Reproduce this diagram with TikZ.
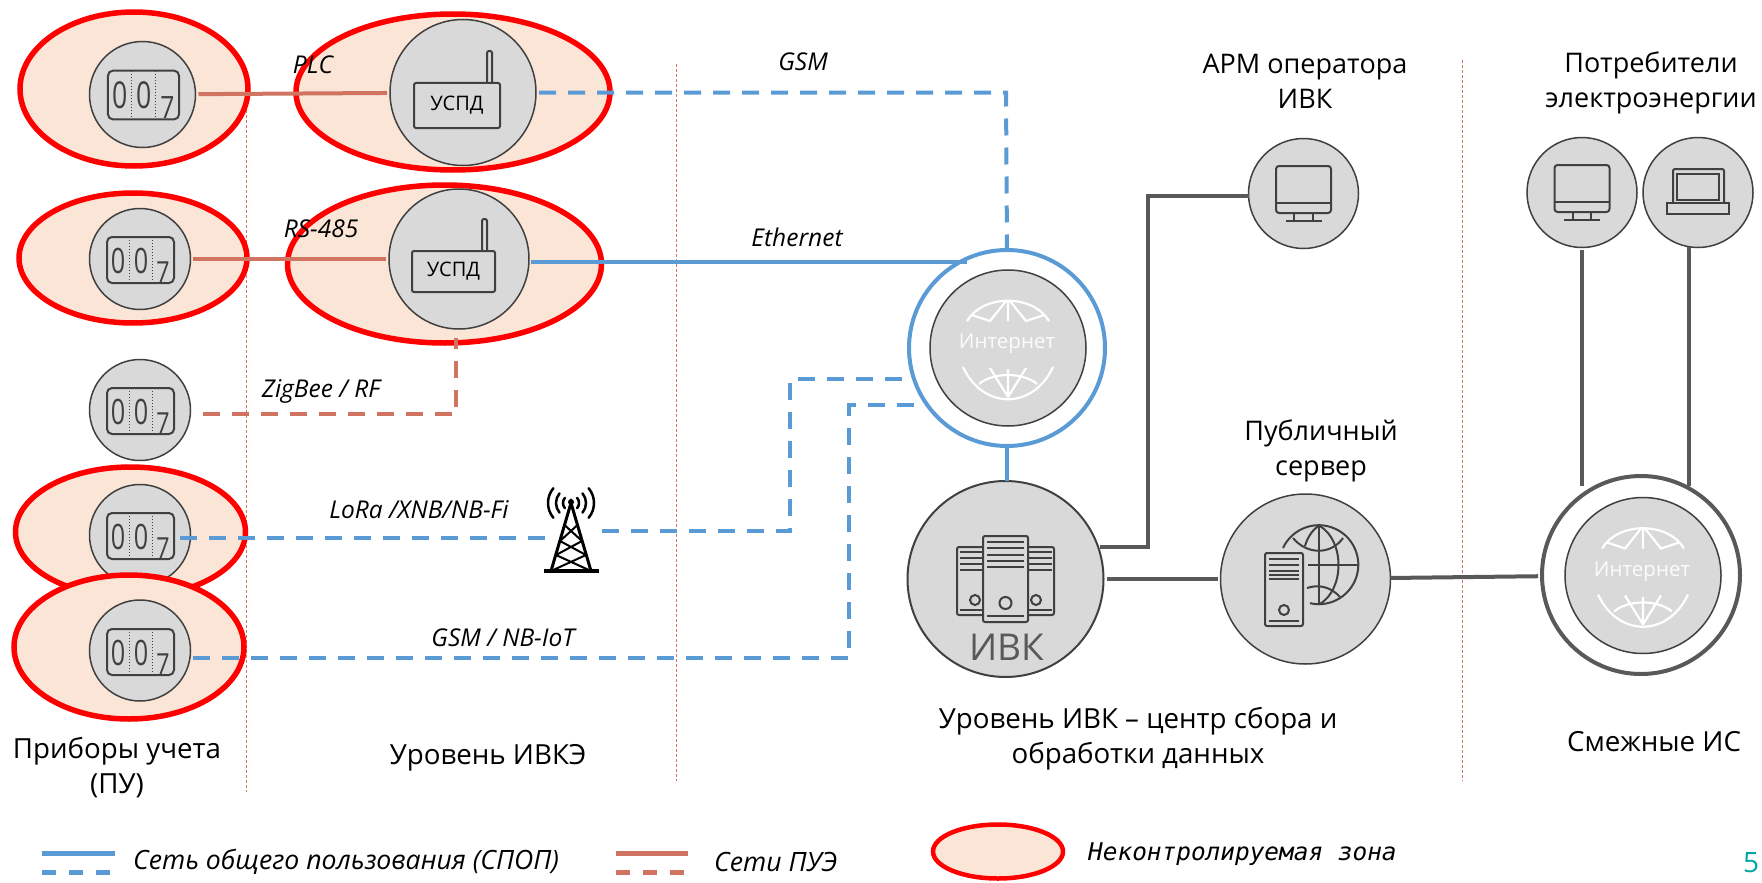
\documentclass[tikz,border=0pt]{standalone}
\usepackage{fontspec}
\setmainfont{Open Sans}
\newfontfamily\zonefont{DejaVu Sans Mono}
\usetikzlibrary{shapes.geometric, positioning}
\definecolor{zonefill}{HTML}{FBE5D6}
\definecolor{unitfill}{HTML}{D9D9D9}
\definecolor{unitline}{HTML}{404040}
\definecolor{netblue}{HTML}{5B9BD5}
\definecolor{puered}{HTML}{D07360}
\definecolor{busgray}{HTML}{595959}
\definecolor{pageteal}{HTML}{00A5A5}
\tikzstyle{zone} = [ellipse, draw=red, line width=5.5pt, fill=zonefill, inner sep=0pt, outer sep=0pt]
\tikzstyle{unit} = [circle, draw=unitline, fill=unitfill, line width=1.5pt, inner sep=0pt, outer sep=0pt]
\tikzstyle{ring} = [circle, fill=white, line width=4pt, inner sep=0pt, outer sep=0pt, minimum size=196pt]
\tikzstyle{router} = [rectangle, draw=unitline, line width=2pt, rounded corners=2pt, fill=unitfill, font=\fontsize{20}{24}\selectfont]
\tikzstyle{title} = [align=center, font=\fontsize{27.7}{35}\selectfont]
\tikzstyle{toptitle} = [align=center, font=\fontsize{27}{35}\selectfont]
\tikzstyle{netlabel} = [font=\fontsize{24.5}{28}\selectfont\itshape]
\tikzstyle{legendlabel} = [anchor=west, inner sep=0pt, font=\fontsize{26.6}{30}\selectfont\itshape]
\tikzstyle{netline} = [draw=netblue, line width=4pt]
\tikzstyle{netdash} = [netline, dash pattern=on 17pt off 12pt]
\tikzstyle{pueline} = [draw=puered, line width=4pt]
\tikzstyle{puedash} = [pueline, dash pattern=on 17pt off 12pt]
\tikzstyle{busline} = [draw=busgray, line width=4pt]
\tikzstyle{divider} = [draw=puered, line width=1pt, dash pattern=on 3pt off 2pt]
\tikzset{
  icon/.style={draw=unitline, line width=2pt},
  pics/metericon/.style={code={
    \draw [icon, rounded corners=5pt] (-33.5,-23) rectangle (33.5,23);
    \draw [unitline, line width=1pt, dotted] (-11,-23) -- (-11,23) (11.5,-23) -- (11.5,23);
    \node [text=unitline, xscale=.72, font=\fontsize{35}{35}\selectfont] (d1) at (-22.5,.5) {0};
    \node [text=unitline, xscale=.72, font=\fontsize{35}{35}\selectfont] (d2) at (.5,.5) {0};
    \node [text=unitline, xscale=.8, font=\fontsize{29}{29}\selectfont] (d3) at (22.5,12) {7};
  }},
  pics/monitoricon/.style={code={
    \draw [icon, rounded corners=3pt] (-27.5,-27.5) rectangle (27.5,19.5);
    \draw [icon] (-27.5,9.5) -- (27.5,9.5);
    \draw [icon] (-9.5,19.5) -- (-9.5,27.5) (9,19.5) -- (9,27.5) (-18,27.5) -- (18,27.5);
  }},
  pics/laptopicon/.style={code={
    \draw [icon, rounded corners=2pt] (-25,10.5) -- (-25,-23.5) -- (26,-23.5) -- (26,10.5);
    \draw [icon] (-21,-18.5) rectangle (21,7.5);
    \draw [icon] (-31,10.5) rectangle (31,21.5);
  }},
  pics/webicon/.style={code={
    \draw [white, line width=2.2pt] (-41,-27) .. controls (-25,-54) and (25,-54) .. (41,-27);
    \draw [white, line width=2.2pt] (0,-47) -- (0,-27) (-2,-47) -- (-18,-27) -- (-36,-33) (2,-47) -- (18,-27) -- (36,-33);
    \draw [white, line width=2.2pt] (-45,19) .. controls (-25,62) and (25,62) .. (45,19);
    \draw [white, line width=2.2pt] (-29,36) .. controls (-15,24) and (15,24) .. (29,36);
    \draw [white, line width=2.2pt] (0,21) -- (0,49) (0,49) -- (-18,20) (0,49) -- (18,20);
    \node [text=white!90!unitfill, font=\fontsize{20.5}{24}\selectfont] (webtext) at (-1,-4) {Интернет};
  }},
  pics/clustericon/.style={code={
    \draw [icon, rounded corners=2pt] (-22.5,-32) -- (-48.5,-32) -- (-48.5,36) -- (-22.5,36);
    \draw [icon, rounded corners=2pt] (22.5,-32) -- (48.5,-32) -- (48.5,36) -- (22.5,36);
    \draw [icon, rounded corners=2pt] (-22.5,-43) rectangle (22.5,43);
    \draw [icon] (-18.5,-37) -- (18.5,-37) (-18.5,-31) -- (18.5,-31) (-18.5,-24) -- (18.5,-24) (-18.5,-18) -- (18.5,-18) (-18.5,-12) -- (18.5,-12) (-18.5,37) -- (18.5,37);
    \draw [icon] (-46,-27) -- (-22.5,-27) (-46,-21) -- (-22.5,-21) (-46,-15) -- (-22.5,-15) (-46,-9) -- (-22.5,-9) (-46,31) -- (-22.5,31);
    \draw [icon] (46,-27) -- (22.5,-27) (46,-21) -- (22.5,-21) (46,-15) -- (22.5,-15) (46,-9) -- (22.5,-9) (46,31) -- (22.5,31);
    \draw [icon] (0,24) circle (6) (-30.5,21) circle (5) (30.5,21) circle (5);
  }},
  pics/servericon/.style={code={
    % globe behind the tower
    \draw [icon] (-36,-17) arc[start angle=-155, end angle=103, radius=39.5];
    \draw [icon] (0,-39.5) -- (0,39.5) (-11,0) -- (39.5,0);
    \draw [icon] (0,-39.5) .. controls (26,-25) and (26,25) .. (0,39.5);
    \draw [icon] (0,-39.5) .. controls (-8,-34) and (-12,-26) .. (-14,-19);
    \draw [icon] (-26,-27) .. controls (-12,-10) and (12,-10) .. (24,-27);
    \draw [icon] (-12,23) .. controls (0,19) and (12,22) .. (21,32);
    % tower
    \draw [icon, fill=unitfill, rounded corners=2pt] (-54,-12) rectangle (-16,61);
    \draw [icon] (-50,-6) -- (-20,-6) (-50,0) -- (-20,0) (-50,6) -- (-20,6) (-50,10) -- (-20,10) (-50,14) -- (-20,14) (-50,56) -- (-20,56);
    \draw [icon] (-35,45) circle (5);
  }},
  pics/towericon/.style={code={
    \draw [black, line width=3pt] (-20,68) -- (0,0) -- (20,68);
    \draw [black, line width=4pt] (-27,68) -- (28,68);
    \draw [black, line width=2pt] (-6.5,22) -- (11,38) (6.5,22) -- (-11,38) (-11,38) -- (15,52) (11,38) -- (-15,52) (-15,52) -- (20,68) (15,52) -- (-20,68);
    \fill [black] (0,-1) circle (3);
    \draw [black, line width=2.5pt, line cap=round] (40:8) arc[start angle=40, end angle=-40, radius=8] (40:15) arc[start angle=40, end angle=-40, radius=15] (40:23) arc[start angle=40, end angle=-40, radius=23];
    \draw [black, line width=2.5pt, line cap=round] (140:8) arc[start angle=140, end angle=220, radius=8] (140:15) arc[start angle=140, end angle=220, radius=15] (140:23) arc[start angle=140, end angle=220, radius=23];
  }}
}
\begin{document}
\begin{tikzpicture}[x=1pt, y=-1pt]
    \useasboundingbox (0,0) rectangle (1762,883);

    % Dividers between levels
    \draw [divider] (246,70) -- (246,792);
    \draw [divider] (676.5,64) -- (676.5,781);
    \draw [divider] (1462,60) -- (1462,781);

    % Uncontrolled zones
    \node [zone, minimum width=228pt, minimum height=154pt] (zoneA) at (134,89) {};
    \node [zone, minimum width=314pt, minimum height=156pt] (zoneB) at (453,92) {};
    \node [zone, minimum width=228pt, minimum height=130pt] (zoneC) at (133,258) {};
    \node [zone, minimum width=314pt, minimum height=158pt] (zoneD) at (444.5,264) {};
    \node [zone, minimum width=230pt, minimum height=130pt] (zoneE) at (130.5,532) {};

    % Meters and data concentrators
    \node [unit, minimum size=106pt] (meterA) at (142.5,94.5) {};
    \node [unit, minimum size=101pt, below=61pt of meterA, xshift=-2.5pt] (meterB) {};
    \node [unit, minimum size=101pt, below=50pt of meterB] (meterC) {};
    \node [unit, minimum size=101pt, below=24pt of meterC] (meterD) {};
    \pic at (140.5,536) {metericon};
    \node [zone, minimum width=230pt, minimum height=144pt] (zoneF) at (129,647) {};
    \node [unit, minimum size=101pt, below=14.5pt of meterD] (meterE) {};
    \node [unit, minimum size=146pt, right=194.5pt of meterA, yshift=2pt] (uspdA) {};
    \node [unit, minimum size=140pt, right=198.5pt of meterB] (uspdB) {};

    \pic [scale=1.06, transform shape] at (143.5,95) {metericon};
    \pic at (140.5,260) {metericon};
    \pic at (140.5,411) {metericon};
    \pic at (140.5,652) {metericon};

    \draw [icon, fill=unitfill, rounded corners=2pt] (487,83) -- (487,51) -- (492,51) -- (492,83);
    \draw [icon, fill=unitfill, rounded corners=2pt] (482,251) -- (482,219) -- (487,219) -- (487,251);
    \node [router, minimum width=86pt, minimum height=45pt] (boxA) at (457,105.5) {УСПД};
    \node [router, minimum width=83pt, minimum height=41pt] (boxB) at (453.5,271.5) {УСПД};
    \pic at (571,503) {towericon};

    % Internet, IVK and public server
    \node [ring, draw=netblue] (inetA) at (1007,348) {};
    \node [unit, minimum size=156pt] (inetCoreA) at (1008,348) {};
    \pic at (1008,348) {webicon};
    \node [unit, line width=2pt, minimum size=196pt, below=35pt of inetA, xshift=-1.5pt] (ivk) {};
    \pic at (1005.5,579) {clustericon};
    \node [text=busgray, font=\fontsize{37}{40}\selectfont] (ivkLabel) at (1007,647) {ИВК};
    \node [unit, minimum size=170pt, right=117pt of ivk] (pubsrv) {};
    \pic at (1319,565) {servericon};
    \node [ring, draw=busgray, minimum size=198pt, right=151.5pt of pubsrv, yshift=4pt] (inetB) {};
    \node [unit, minimum size=156pt] (inetCoreB) at (1643,575.5) {};
    \pic at (1643,575.5) {webicon};

    % Workstations and consumers
    \node [unit, minimum size=110pt] (arm) at (1303.5,193.5) {};
    \pic at (arm) {monitoricon};
    \node [unit, minimum size=110pt] (userA) at (1582,192.5) {};
    \pic at (userA) {monitoricon};
    \node [unit, minimum size=110pt, right=6pt of userA] (userB) {};
    \pic at (userB) {laptopicon};

    % Turning points of the links
    \coordinate (gsmTurn) at (1006,92);
    \coordinate (ethEnd) at (967,262);
    \coordinate (zigTurn) at (456,414);
    \coordinate (zigEnd) at (456,338);
    \coordinate (loraStart) at (180,538);
    \coordinate (loraEnd) at (547,538);
    \coordinate (towerOut) at (602,531);
    \coordinate (towerTurnA) at (790,531);
    \coordinate (towerTurnB) at (790,379);
    \coordinate (towerEnd) at (905,379);
    \coordinate (iotTurnA) at (849,658);
    \coordinate (iotTurnB) at (849,405);
    \coordinate (iotEnd) at (923,405);
    \coordinate (armTurnA) at (1148,547);
    \coordinate (armTurnB) at (1148,196);
    \coordinate (ivkOut) at (1100,547);
    \coordinate (userInA) at (1582,486);
    \coordinate (userOutB) at (1689,247);
    \coordinate (userInB) at (1689,486);

    % Links
    \draw [pueline, shorten <=3pt, shorten >=3pt] (meterA) -- (uspdA);
    \draw [pueline, shorten <=2pt, shorten >=3pt] (meterB) -- (uspdB);
    \draw [puedash, shorten <=12pt] (meterC.east |- zigTurn) -- (zigTurn) -- (zigEnd);
    \draw [netdash, shorten <=3pt] (uspdA) -- (uspdA -| gsmTurn) -- (inetA.north);
    \draw [netline, shorten <=2pt] (uspdB.east |- ethEnd) -- (ethEnd);
    \draw [netdash] (loraStart) -- (loraEnd);
    \draw [netdash] (towerOut) -- (towerTurnA) -- (towerTurnB) -- (towerEnd);
    \draw [netdash, shorten <=2pt] (meterE.east |- iotTurnA) -- (iotTurnA) -- (iotTurnB) -- (iotEnd);
    \draw [netline] (inetA.south) -- (inetA.south |- ivk.north);
    \draw [busline] (ivkOut) -- (armTurnA) -- (armTurnB) -- (arm.west |- armTurnB);
    \draw [busline, shorten <=3pt, shorten >=3pt] (ivk) -- (pubsrv);
    \draw [busline, shorten >=4pt] (pubsrv) -- (inetB);
    \draw [busline, shorten <=2pt] (userA.south) -- (userInA);
    \draw [busline] (userOutB) -- (userInB);

    % Network labels
    \node [netlabel] (plcLabel) at (313,65) {PLC};
    \node [netlabel] (rsLabel) at (321,229) {RS-485};
    \node [netlabel] (gsmLabel) at (803,62) {GSM};
    \node [netlabel] (ethLabel) at (797,237) {Ethernet};
    \node [netlabel] (zigLabel) at (321,391) {ZigBee / RF};
    \node [netlabel] (loraLabel) at (419,510) {LoRa /XNB/NB-Fi};
    \node [netlabel] (iotLabel) at (503,638) {GSM / NB-IoT};

    % Level captions
    \node [title] (meterTitle) at (117,768) {Приборы учета\\(ПУ)};
    \node [title] (levelTitle) at (488,758) {Уровень ИВКЭ};
    \node [title] (ivkTitle) at (1138,739) {Уровень ИВК – центр сбора и\\обработки данных};
    \node [title] (otherTitle) at (1654,742) {Смежные ИС};
    \node [toptitle] (armTitle) at (1305,81) {АРМ оператора\\ИВК};
    \node [toptitle] (userTitle) at (1651,83) {Потребители\\электроэнергии};
    \node [toptitle] (pubTitle) at (1321,451) {Публичный\\сервер};

    % Legend
    \coordinate (legA) at (42,853);
    \coordinate (legB) at (115,853);
    \coordinate (legC) at (42,872);
    \coordinate (legD) at (115,872);
    \coordinate (legE) at (616,853);
    \coordinate (legF) at (688,853);
    \coordinate (legG) at (616,872);
    \coordinate (legH) at (688,872);
    \draw [netline, line width=5pt] (legA) -- (legB);
    \draw [netdash, line width=5pt, dash pattern=on 14pt off 13pt] (legC) -- (legD);
    \draw [pueline, line width=5pt] (legE) -- (legF);
    \draw [puedash, line width=5pt, dash pattern=on 14pt off 13pt] (legG) -- (legH);
    \node [legendlabel] (legNet) at (133,862) {Сеть общего пользования (СПОП)};
    \node [legendlabel] (legPue) at (714,862) {Сети ПУЭ};
    \node [zone, line width=4.5pt, minimum width=130pt, minimum height=54pt] (legZone) at (998,851.5) {};
    \node [anchor=west, inner sep=0pt, font=\fontsize{24.4}{28}\zonefont\itshape] (legZoneText) at (1088,854) {Неконтролируемая зона};
    \node [text=pageteal, font=\fontsize{28}{32}\selectfont] (pageNo) at (1751,863) {5};
\end{tikzpicture}
\end{document}
